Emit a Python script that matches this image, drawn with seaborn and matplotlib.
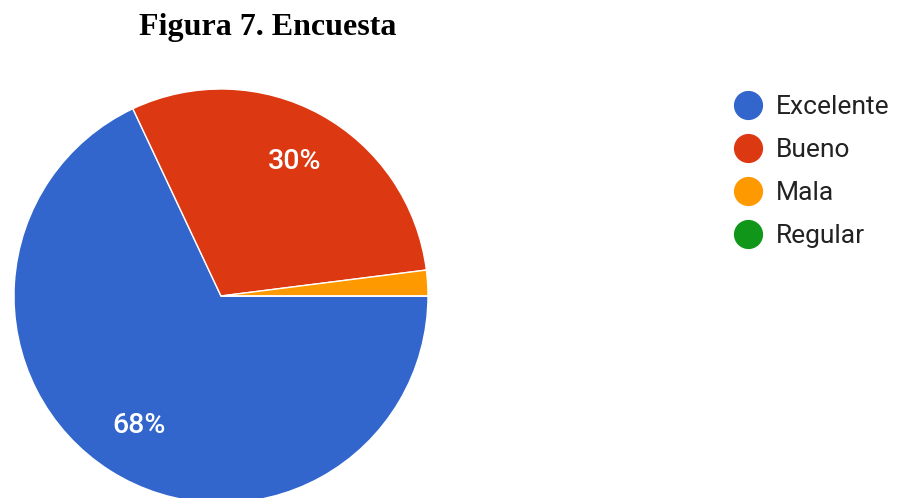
import matplotlib
matplotlib.use("Agg")
import matplotlib.pyplot as plt
from matplotlib.lines import Line2D
import seaborn as sns

# survey answers, in the order the legend lists them
categories = ['Excelente', 'Bueno', 'Mala', 'Regular']
shares = [68, 30, 2, 0]
title = 'Figura 7. Encuesta'

sns.set_theme(style='white')
plt.rcParams['font.family'] = ['Roboto', 'DejaVu Sans']

palette = sns.color_palette(['#3366CC', '#DC3912', '#FF9900', '#109618'])

fig = plt.figure(figsize=(9.13, 4.98), dpi=100)
fig.patch.set_facecolor('white')

# pie box is square in pixels, bottom spills past the image like the screenshot
ax = fig.add_axes([14 / 913, -5 / 498, 414 / 913, 414 / 498])


def pct_label(p):
    # google hides labels on tiny slices
    return f'{p:.0f}%' if p >= 5 else ''


wedges, texts, autotexts = ax.pie(
    shares,
    colors=palette,
    startangle=0,
    counterclock=False,
    autopct=pct_label,
    pctdistance=0.74,
    wedgeprops=dict(edgecolor='white', linewidth=1),
    textprops=dict(color='white', fontsize=20.5, fontweight='medium'),
)
ax.set_xlim(-1, 1)
ax.set_ylim(-1, 1)
ax.axis('off')

handles = [Line2D([], [], marker='o', linestyle='', markersize=20,
                  markerfacecolor=c, markeredgecolor=c) for c in palette]
fig.legend(handles, categories, loc='upper left',
           bbox_to_anchor=(719 / 913, 1 - 82 / 498), frameon=False,
           fontsize=19, labelspacing=0.72, handletextpad=0.47,
           handlelength=1.2, borderpad=0, labelcolor='#222222')

fig.text(268 / 913, 1 - 35 / 498, title, ha='center', va='baseline',
         fontsize=23, fontweight='bold', color='black',
         family=['Liberation Serif'])

fig.savefig('out.png', dpi=100)
